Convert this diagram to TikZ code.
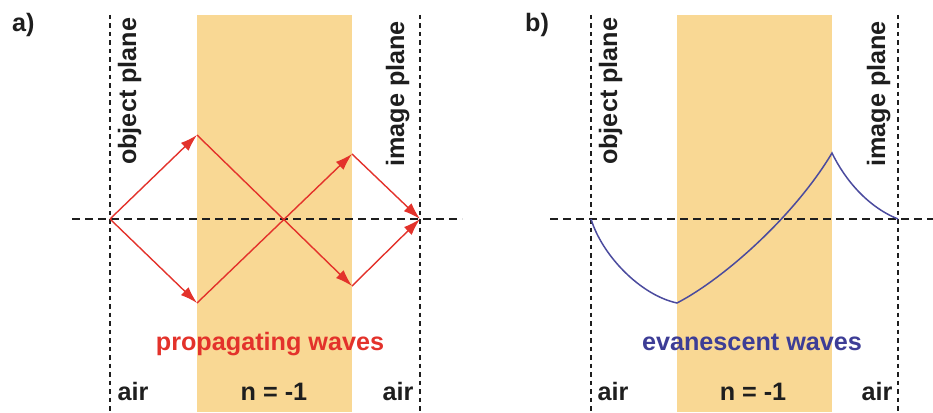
\documentclass[tikz,border=0pt]{standalone}
\usepackage{fontspec}
\setmainfont{Liberation Sans}
\usetikzlibrary{arrows.meta}
\definecolor{slab}{HTML}{F9D894}
\definecolor{ray}{HTML}{E3322B}
\definecolor{eva}{HTML}{4B4B9E}
\definecolor{evatext}{HTML}{3D3D96}
\definecolor{ink}{HTML}{1E1E1E}
\tikzset{
  lbl/.style={font=\fontsize{25.2}{27}\selectfont\bfseries, inner sep=0pt, text=ink},
  vline/.style={line width=1.5pt, dash pattern=on 4.5pt off 4pt, ink},
  hline/.style={line width=1.5pt, dash pattern=on 8pt off 5pt, ink},
  rayarrow/.style={ray, line width=1.4pt, -{Latex[length=17pt,width=11pt]}},
  evacurve/.style={eva, line width=1.5pt},
}
\begin{document}
\begin{tikzpicture}[x=1pt,y=-1pt]
\useasboundingbox (0,0) rectangle (933,412);
% ---------- panel a ----------
\fill[slab] (197,15) rectangle (352,412);
\coordinate (aLt) at (110,15); \coordinate (aLb) at (110,412);
\coordinate (aRt) at (420,15); \coordinate (aRb) at (420,412);
\coordinate (aHl) at (72,219); \coordinate (aHr) at (462,219);
\draw[vline] (aLt) -- (aLb);
\draw[vline] (aRt) -- (aRb);
\draw[hline] (aHl) -- (aHr);
\node[lbl, anchor=base west] (alab) at (12,32) {a)};
\node[lbl, anchor=base west, rotate=90] (aobj) at (136,165) {object plane};
\node[lbl, anchor=base west, rotate=90] (aimg) at (404,167) {image plane};
\node[lbl, anchor=base, text=ray] (aprop) at (270,350) {propagating waves};
\node[lbl, anchor=base] (aair1) at (133,400) {air};
\node[lbl, anchor=base] (an) at (274,400) {n = -1};
\node[lbl, anchor=base] (aair2) at (398,400) {air};
\coordinate (src) at (110,219);
\coordinate (p1) at (197,135);
\coordinate (p2) at (197,303);
\coordinate (p3) at (352,154);
\coordinate (p4) at (352,286);
\coordinate (img) at (420,219);
\draw[rayarrow] (src) -- (p1);
\draw[rayarrow] (src) -- (p2);
\draw[rayarrow] (p1) -- (p4);
\draw[rayarrow] (p2) -- (p3);
\draw[rayarrow] (p3) -- (img);
\draw[rayarrow] (p4) -- (img);
% ---------- panel b ----------
\fill[slab] (677,15) rectangle (832,412);
\coordinate (bLt) at (591,15); \coordinate (bLb) at (591,412);
\coordinate (bRt) at (898,15); \coordinate (bRb) at (898,412);
\coordinate (bHl) at (550,219); \coordinate (bHr) at (933,219);
\draw[vline] (bLt) -- (bLb);
\draw[vline] (bRt) -- (bRb);
\draw[hline] (bHl) -- (bHr);
\node[lbl, anchor=base west] (blab) at (525,32) {b)};
\node[lbl, anchor=base west, rotate=90] (bobj) at (617,165) {object plane};
\node[lbl, anchor=base west, rotate=90] (bimg) at (885,167) {image plane};
\node[lbl, anchor=base, text=evatext] (beva) at (752,350) {evanescent waves};
\node[lbl, anchor=base] (bair1) at (613,400) {air};
\node[lbl, anchor=base] (bn) at (753,400) {n = -1};
\node[lbl, anchor=base] (bair2) at (877,400) {air};
\coordinate (q0) at (591,219);
\coordinate (q1) at (677,303);
\coordinate (q2) at (832,153);
\coordinate (q3) at (898,219);
\draw[evacurve] (q0) .. controls (602,255) and (640,295) .. (q1)
  .. controls (725,278) and (795,215) .. (q2)
  .. controls (845,180) and (868,207) .. (q3);
\end{tikzpicture}
\end{document}
